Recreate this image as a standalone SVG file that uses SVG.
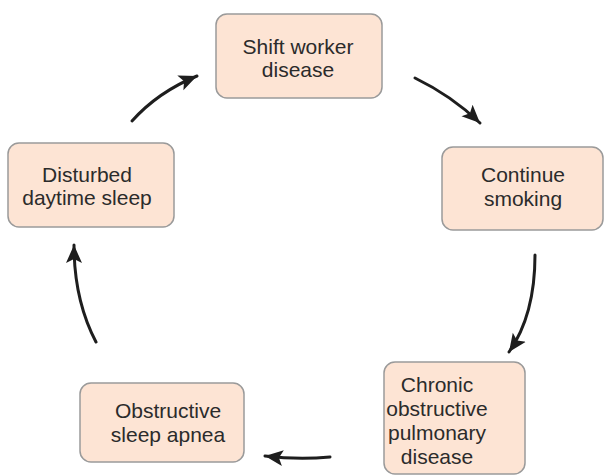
<svg xmlns="http://www.w3.org/2000/svg" width="604" height="476" viewBox="0 0 604 476">
<style>
.box{fill:#fde4d4;stroke:#9a9a9a;stroke-width:1.5}
.t{font-family:"Liberation Sans",Arial,sans-serif;font-size:21px;fill:#2b2b2b;text-anchor:middle}
.c{fill:none;stroke:#1e1e1e;stroke-width:3;stroke-linecap:round;marker-end:url(#ah)}
</style>
<defs>
<marker id="ah" markerUnits="userSpaceOnUse" markerWidth="20" markerHeight="20" viewBox="0 0 20 20" refX="18" refY="10" orient="auto">
<path d="M0,2 L18,10 L0,18 L4,10 Z" fill="#1e1e1e"/>
</marker>
</defs>
<rect width="604" height="476" fill="#fff"/>
<g id="shift">
<rect class="box" x="216" y="14" width="166" height="84" rx="11"/>
<text class="t" x="298" y="54">Shift worker</text>
<text class="t" x="298" y="77">disease</text>
</g>
<g id="smoking">
<rect class="box" x="442" y="147" width="161" height="83" rx="11"/>
<text class="t" x="523" y="182">Continue</text>
<text class="t" x="523" y="206">smoking</text>
</g>
<g id="copd">
<rect class="box" x="384" y="362" width="141" height="112" rx="11"/>
<text class="t" x="437" y="392">Chronic</text>
<text class="t" x="437" y="416">obstructive</text>
<text class="t" x="437" y="440">pulmonary</text>
<text class="t" x="437" y="464">disease</text>
</g>
<g id="osa">
<rect class="box" x="80" y="383" width="164" height="79" rx="11"/>
<text class="t" x="168" y="418">Obstructive</text>
<text class="t" x="168" y="442">sleep apnea</text>
</g>
<g id="disturbed">
<rect class="box" x="8" y="143" width="166" height="84" rx="11"/>
<text class="t" x="87" y="182">Disturbed</text>
<text class="t" x="87" y="205">daytime sleep</text>
</g>
<g id="connectors">
<path class="c" d="M132,121 Q158,92 197,76"/>
<path class="c" d="M415,78 Q452,96 480,123"/>
<path class="c" d="M535,255 Q535,315 509,352"/>
<path class="c" d="M330,457 Q298,460 265,456"/>
<path class="c" d="M96,342 Q74,300 74,245"/>
</g>
</svg>
